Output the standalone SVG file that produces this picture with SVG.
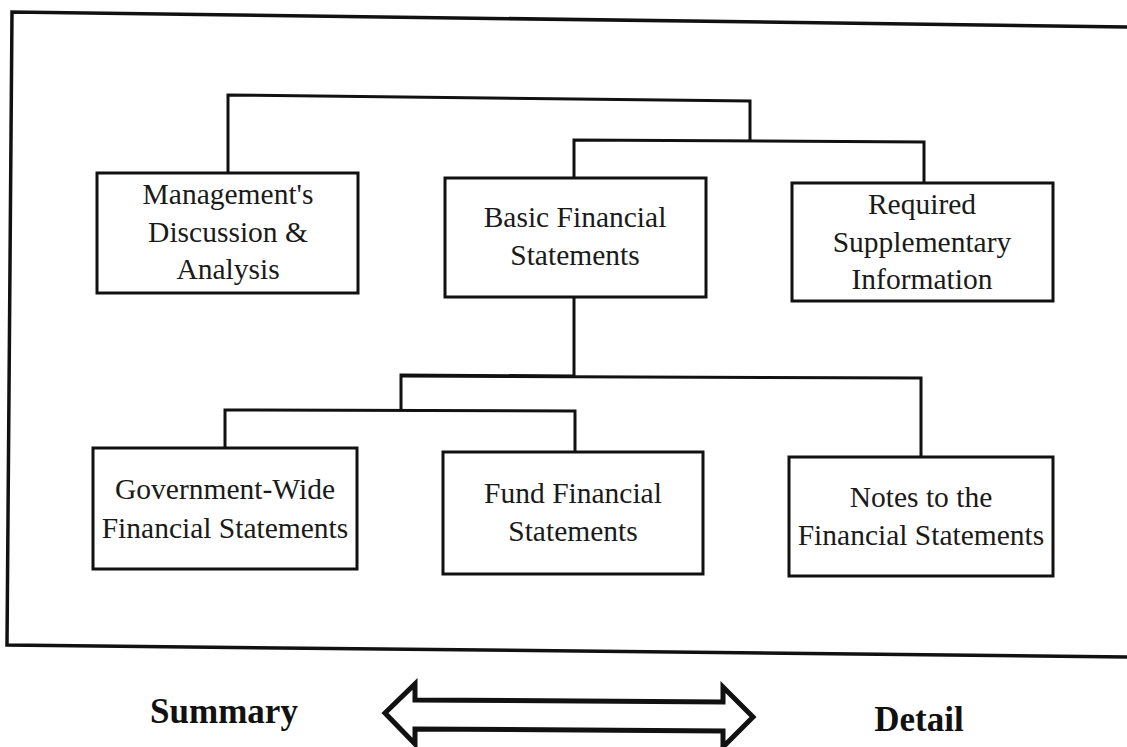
<svg xmlns="http://www.w3.org/2000/svg" width="1127" height="747" viewBox="0 0 1127 747">
<style>
.box{fill:#fff;stroke:#111;stroke-width:3}
.ln{fill:none;stroke:#111;stroke-width:3}
.t{font-family:"Liberation Serif",serif;font-size:29.5px;fill:#1a1a1a;text-anchor:middle}
.lbl{font-family:"Liberation Serif",serif;font-size:35px;font-weight:bold;fill:#111;text-anchor:middle}
</style>
<rect width="1127" height="747" fill="#fff"/>
<path id="frame" d="M1135,27 L12,12 L7,645 L1135,657" fill="none" stroke="#111" stroke-width="3.5"/>
<g id="connectors" class="ln">
<polyline class="ln" points="228,173 228,95 750,101 750,140"/>
<polyline class="ln" points="574,178 574,140 924,142 924,183"/>
<polyline class="ln" points="574,297 574,376 401,375 401,410"/>
<polyline class="ln" points="401,376 921,378 921,456"/>
<polyline class="ln" points="225,448 225,410 575,411 575,452"/>
</g>
<g id="mda">
<rect class="box" x="97" y="173" width="261" height="120"/>
<text class="t" x="228" y="204">Management's</text>
<text class="t" x="228" y="242">Discussion &amp;</text>
<text class="t" x="228" y="279">Analysis</text>
</g>
<g id="basic">
<rect class="box" x="445" y="178" width="261" height="119"/>
<text class="t" x="575" y="227">Basic Financial</text>
<text class="t" x="575" y="265">Statements</text>
</g>
<g id="rsi">
<rect class="box" x="792" y="183" width="261" height="118"/>
<text class="t" x="922" y="214">Required</text>
<text class="t" x="922" y="252">Supplementary</text>
<text class="t" x="922" y="289">Information</text>
</g>
<g id="gov">
<rect class="box" x="93" y="448" width="264" height="121"/>
<text class="t" x="225" y="499">Government-Wide</text>
<text class="t" x="225" y="538">Financial Statements</text>
</g>
<g id="fund">
<rect class="box" x="443" y="452" width="260" height="122"/>
<text class="t" x="573" y="503">Fund Financial</text>
<text class="t" x="573" y="541">Statements</text>
</g>
<g id="notes">
<rect class="box" x="789" y="457" width="264" height="119"/>
<text class="t" x="921" y="507">Notes to the</text>
<text class="t" x="921" y="545">Financial Statements</text>
</g>
<g id="scale">
<path d="M385,713 L415,684 L415,700 L723,702 L723,687 L753,717 L723,747 L723,731 L415,729 L415,744 Z" fill="#fff" stroke="#111" stroke-width="5" stroke-linejoin="miter"/>
<text class="lbl" x="224" y="723">Summary</text>
<text class="lbl" x="919" y="731">Detail</text>
</g>
</svg>
